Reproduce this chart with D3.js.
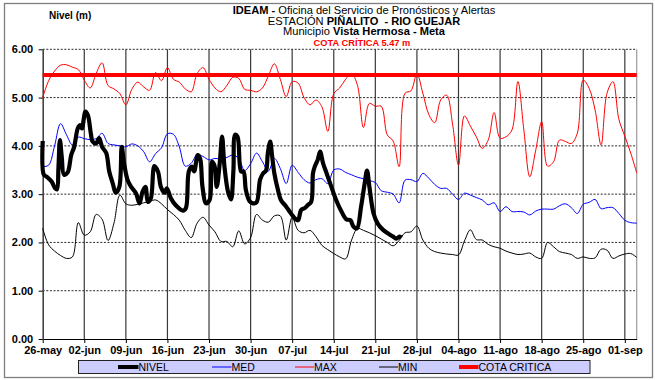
<!DOCTYPE html>
<html><head><meta charset="utf-8">
<script src="https://cdn.jsdelivr.net/npm/d3@7"></script>
<style>
body{margin:0;background:#fff}
svg{display:block;font-family:"Liberation Sans",Arial,sans-serif}
</style>
</head><body>
<svg id="c" width="655" height="380"></svg>
<script>
// ---------- DATA ----------
const startDate = "2011-05-26";
const tickLabels = ["26-may","02-jun","09-jun","16-jun","23-jun","30-jun","07-jul","14-jul","21-jul","28-jul","04-ago","11-ago","18-ago","25-ago","01-sep"];
const yTicks = [0,1,2,3,4,5,6];
const cotaCritica = 5.47;
const seriesNames = ["NIVEL","MED","MAX","MIN","COTA CRITICA"];

// daily values, 26-may .. 03-sep
const medValues = [
 3.57,3.60,4.00,4.46,4.23,4.02,4.18,4.15,4.13,4.15,
 4.26,4.05,4.02,4.00,3.98,4.04,4.00,3.88,3.67,3.84,
 3.96,4.25,4.24,3.98,3.58,3.64,3.82,3.78,3.71,3.74,
 3.73,3.76,3.81,3.74,3.49,3.63,3.85,3.67,3.48,3.74,
 3.53,3.22,3.60,3.45,3.30,3.23,3.30,3.32,3.22,3.50,
 3.52,3.45,3.40,3.35,3.32,3.28,3.24,3.07,3.04,3.00,
 2.82,3.29,3.30,3.26,3.43,3.33,3.20,3.12,3.12,3.00,
 2.89,3.02,2.98,2.93,2.88,2.78,2.82,2.64,2.74,2.64,
 2.64,2.63,2.57,2.65,2.69,2.69,2.69,2.76,2.80,2.72,
 2.60,2.79,2.83,2.89,2.70,2.72,2.72,2.60,2.46,2.41,
 2.40];
const maxValues = [
 5.00,5.35,5.55,5.67,5.68,5.63,5.58,5.36,5.20,5.50,
 5.72,5.25,5.18,5.08,4.85,5.17,5.32,5.22,5.15,5.52,
 5.35,5.62,5.38,5.32,5.18,5.12,5.50,5.62,5.38,5.20,
 5.12,5.25,5.42,5.40,5.17,5.15,5.12,5.20,5.45,5.70,
 5.38,5.02,5.33,5.30,5.00,4.85,4.95,4.81,4.30,5.08,
 5.20,5.38,5.50,5.25,4.38,4.88,4.82,4.82,4.23,4.10,
 3.57,5.09,5.14,5.49,5.09,4.65,4.48,4.95,5.05,4.45,
 3.60,4.62,4.41,4.19,3.95,4.12,4.69,4.16,4.19,4.33,
 5.33,4.33,3.36,3.91,4.50,3.58,3.67,4.12,4.09,4.05,
 4.26,5.36,5.19,4.74,4.02,5.09,5.33,4.55,4.20,3.85,
 3.44];
const minValues = [
 2.29,1.95,1.82,1.73,1.67,1.70,2.41,2.15,2.22,2.58,
 2.48,2.04,2.40,2.98,2.80,2.77,2.79,2.82,2.85,2.88,
 2.80,2.68,2.58,2.46,2.25,2.10,2.40,2.52,2.36,2.22,
 2.02,2.02,1.91,2.24,1.97,2.10,2.58,2.46,2.42,2.55,
 2.55,2.05,2.52,2.25,2.20,2.25,2.12,1.94,1.85,1.77,
 1.70,1.66,2.05,2.29,2.25,2.20,2.14,2.07,2.00,1.93,
 2.04,2.20,2.22,2.34,2.05,1.88,1.81,1.78,1.76,1.75,
 1.74,2.03,2.26,2.06,2.05,1.96,1.91,1.88,1.82,1.78,
 1.75,1.76,1.78,1.70,1.67,2.00,1.91,1.81,1.78,1.75,
 1.67,1.70,1.67,1.68,1.86,1.84,1.67,1.72,1.76,1.77,
 1.69];

// observed level readings: days since 26-may, level (m)
const nivelDays = [0,0.2,0.7,1.5,2.1,2.4,2.65,2.9,3.2,3.6,4.2,4.8,5.3,5.9,6.3,6.6,7.2,7.6,8.1,8.4,9.0,9.5,10.0,10.7,11.2,11.8,12.3,12.9,13.3,13.7,14.3,14.9,15.7,16.3,16.8,17.3,17.7,18.2,18.8,19.4,19.9,20.5,20.9,21.6,22.4,23.6,24.1,24.6,25.1,25.5,26.1,26.5,26.9,27.5,28.1,28.5,28.9,29.3,29.8,30.2,30.6,31.2,31.7,32.1,32.4,32.8,33.4,33.8,34.2,34.8,35.4,36.0,36.6,37.1,37.6,37.9,38.3,38.6,39.0,39.6,40.1,41.0,41.8,42.6,43.0,43.5,44.1,44.6,45.2,45.5,45.8,46.3,46.7,47.2,47.8,48.6,49.4,50.3,51.1,51.8,52.3,52.9,53.6,54.2,54.6,55.0,55.7,56.4,57.3,58.1,59.0,59.5,60.1,60.4];
const nivelValues = [4.10,3.40,3.36,3.26,3.12,3.10,3.55,4.12,3.78,3.40,3.45,3.81,3.98,4.36,4.43,4.36,4.71,4.64,4.26,4.09,4.05,4.16,3.98,3.85,3.47,3.22,3.03,3.15,3.98,3.64,3.29,3.15,3.02,2.81,3.05,3.15,2.84,2.91,3.58,3.47,3.15,3.03,3.12,2.91,2.77,2.66,2.71,3.47,3.57,3.47,3.81,3.74,3.15,2.81,2.88,3.67,3.60,3.15,3.64,4.19,3.57,3.05,2.89,3.47,4.23,4.19,3.47,3.47,3.09,2.86,2.81,2.83,3.30,3.43,3.49,3.85,4.09,3.81,3.43,3.09,2.88,2.74,2.60,2.48,2.46,2.67,2.71,2.77,2.84,3.43,3.57,3.71,3.88,3.64,3.43,3.15,2.88,2.64,2.48,2.46,2.33,2.29,2.74,3.22,3.49,3.15,2.60,2.39,2.26,2.19,2.12,2.08,2.12,2.10];

// ---------- CHART ----------
const svg = d3.select("#c");
const X0 = 42.7, X1 = 636.7, YT = 49.3, YB = 339;
const start = new Date(startDate + "T00:00:00Z");
const DAY = 864e5;
const toDate = d => new Date(start.getTime() + d * DAY);
const nDays = medValues.length - 1;

const x = d3.scaleUtc().domain([start, toDate(nDays)]).range([X0, X1]);
const y = d3.scaleLinear().domain([0, 6]).range([YB, YT]);
const tickDates = tickLabels.map((_, i) => toDate(7 * i));

// outer frame
svg.append("rect").attr("x", 4.5).attr("y", 3.5).attr("width", 648).attr("height", 374)
  .attr("fill", "#fff").attr("stroke", "#7f7f7f").attr("stroke-width", 1.3);

// titles
const t1 = svg.append("text").attr("x", 364).attr("y", 14.2).attr("text-anchor", "middle")
  .attr("font-size", 11.1).attr("fill", "#000");
t1.append("tspan").attr("font-weight", "bold").text("IDEAM - ");
t1.append("tspan").text("Oficina del Servicio de Pronósticos y Alertas");
const t2 = svg.append("text").attr("x", 364).attr("y", 24.8).attr("text-anchor", "middle")
  .attr("font-size", 11.1).attr("xml:space", "preserve");
t2.append("tspan").text("ESTACIÓN ");
t2.append("tspan").attr("font-weight", "bold").text("PIÑALITO  - RIO GUEJAR");
const t3 = svg.append("text").attr("x", 364).attr("y", 35.4).attr("text-anchor", "middle")
  .attr("font-size", 11.1);
t3.append("tspan").text("Municipio ");
t3.append("tspan").attr("font-weight", "bold").text("Vista Hermosa - Meta");
svg.append("text").attr("x", 362).attr("y", 46.3).attr("text-anchor", "middle")
  .attr("font-size", 9.3).attr("font-weight", "bold").attr("fill", "#ff0000")
  .text("COTA CRÍTICA " + cotaCritica.toFixed(2) + " m");
svg.append("text").attr("x", 49).attr("y", 18.5).attr("font-size", 10).attr("font-weight", "bold")
  .text("Nivel (m)");

// horizontal gridlines
svg.append("g").selectAll("line").data(yTicks.filter(v => v > 0)).join("line")
  .attr("x1", X0).attr("x2", X1).attr("y1", d => y(d)).attr("y2", d => y(d))
  .attr("stroke", "#111").attr("stroke-width", 0.9).attr("stroke-dasharray", "2,1.6");

// vertical gridlines
svg.append("g").selectAll("line").data(tickDates.slice(1)).join("line")
  .attr("x1", d => x(d)).attr("x2", d => x(d)).attr("y1", YT).attr("y2", YB)
  .attr("stroke", "#3a3a3a").attr("stroke-width", 1.2);

// right border
svg.append("line").attr("x1", X1).attr("x2", X1).attr("y1", YT).attr("y2", YB)
  .attr("stroke", "#999").attr("stroke-width", 1.2);

// axes
const xAxis = svg.append("g").attr("transform", `translate(0,${YB})`)
  .call(d3.axisBottom(x).tickValues(tickDates).tickFormat((d, i) => tickLabels[i]).tickSize(4).tickSizeOuter(0));
xAxis.select(".domain").attr("stroke", "#000").attr("stroke-width", 1.2);
xAxis.selectAll(".tick line").attr("stroke", "#000");
xAxis.selectAll("text").attr("font-family", "Liberation Sans, Arial, sans-serif")
  .attr("font-size", 11).attr("font-weight", "bold").attr("fill", "#000").attr("dy", "0.85em").attr("y", 6);

const yAxis = svg.append("g").attr("transform", `translate(${X0},0)`)
  .call(d3.axisLeft(y).tickValues(yTicks).tickFormat(d3.format(".2f")).tickSize(4).tickSizeOuter(0));
yAxis.select(".domain").attr("stroke", "#444").attr("stroke-width", 1.6);
yAxis.selectAll(".tick line").attr("stroke", "#000");
yAxis.selectAll("text").attr("font-family", "Liberation Sans, Arial, sans-serif")
  .attr("font-size", 11).attr("font-weight", "bold").attr("fill", "#000").attr("x", -9.5);

// series
const line = d3.line().x(d => x(d[0])).y(d => y(d[1])).curve(d3.curveCatmullRom.alpha(0.5));
const daily = arr => arr.map((v, i) => [toDate(i), v]);

svg.append("path").datum(daily(minValues)).attr("d", line)
  .attr("fill", "none").attr("stroke", "#000").attr("stroke-width", 1);
svg.append("path").datum(daily(medValues)).attr("d", line)
  .attr("fill", "none").attr("stroke", "#0000ff").attr("stroke-width", 1);
svg.append("path").datum(daily(maxValues)).attr("d", line)
  .attr("fill", "none").attr("stroke", "#ff0000").attr("stroke-width", 1);
svg.append("path").datum([[toDate(0), cotaCritica], [toDate(nDays), cotaCritica]])
  .attr("d", d3.line().x(d => x(d[0])).y(d => y(d[1])))
  .attr("fill", "none").attr("stroke", "#ff0000").attr("stroke-width", 4);
svg.append("path").datum(nivelDays.map((d, i) => [toDate(d), nivelValues[i]])).attr("d", line)
  .attr("fill", "none").attr("stroke", "#000").attr("stroke-width", 4.2)
  .attr("stroke-linejoin", "round");

// legend
const lg = svg.append("g");
lg.append("rect").attr("x", 78.5).attr("y", 360.5).attr("width", 511.5).attr("height", 13)
  .attr("fill", "#ccccff").attr("stroke", "#222").attr("stroke-width", 1);
const legendItems = [
  {name: seriesNames[0], color: "#000", w: 4, lx: 118, tx: 138.5},
  {name: seriesNames[1], color: "#0000ff", w: 1, lx: 212, tx: 231.5},
  {name: seriesNames[2], color: "#ff0000", w: 1, lx: 295, tx: 314},
  {name: seriesNames[3], color: "#000", w: 1, lx: 379, tx: 398},
  {name: seriesNames[4], color: "#ff0000", w: 4, lx: 459, tx: 478.5}
];
legendItems.forEach(it => {
  lg.append("line").attr("x1", it.lx).attr("x2", it.tx).attr("y1", 367).attr("y2", 367)
    .attr("stroke", it.color).attr("stroke-width", it.w);
  lg.append("text").attr("x", it.tx).attr("y", 371).attr("font-size", 10.5).attr("fill", "#000").text(it.name);
});
</script>
</body></html>
